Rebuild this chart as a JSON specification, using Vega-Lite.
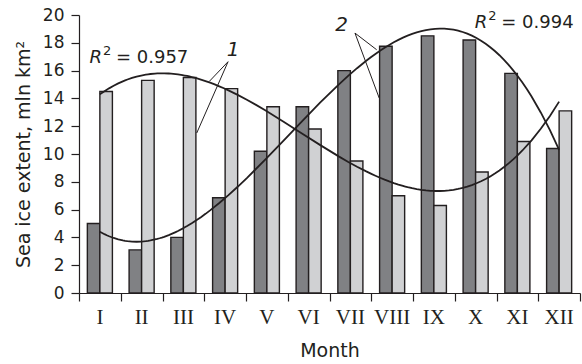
{
  "$schema": "https://vega.github.io/schema/vega-lite/v6.json",
  "width": 501,
  "height": 278,
  "autosize": "none",
  "padding": {"left": 79, "top": 15, "right": 2, "bottom": 71},
  "background": "white",
  "config": {"view": {"stroke": null}, "axis": {"grid": false, "domainColor": "#231f20", "tickColor": "#231f20", "labelColor": "#231f20", "titleColor": "#231f20", "domainWidth": 1.2, "tickWidth": 1.2}, "axisY": {"labelOverlap": false, "tickCount": 10}},
  "datasets": {
    "bars": [
      {"month": "I", "m": 1, "s": "2", "value": 5.0},
      {"month": "II", "m": 2, "s": "2", "value": 3.1},
      {"month": "III", "m": 3, "s": "2", "value": 4.0},
      {"month": "IV", "m": 4, "s": "2", "value": 6.85},
      {"month": "V", "m": 5, "s": "2", "value": 10.2},
      {"month": "VI", "m": 6, "s": "2", "value": 13.4},
      {"month": "VII", "m": 7, "s": "2", "value": 16.0},
      {"month": "VIII", "m": 8, "s": "2", "value": 17.75},
      {"month": "IX", "m": 9, "s": "2", "value": 18.5},
      {"month": "X", "m": 10, "s": "2", "value": 18.2},
      {"month": "XI", "m": 11, "s": "2", "value": 15.8},
      {"month": "XII", "m": 12, "s": "2", "value": 10.4},
      {"month": "I", "m": 1, "s": "1", "value": 14.5},
      {"month": "II", "m": 2, "s": "1", "value": 15.3},
      {"month": "III", "m": 3, "s": "1", "value": 15.5},
      {"month": "IV", "m": 4, "s": "1", "value": 14.7},
      {"month": "V", "m": 5, "s": "1", "value": 13.4},
      {"month": "VI", "m": 6, "s": "1", "value": 11.8},
      {"month": "VII", "m": 7, "s": "1", "value": 9.5},
      {"month": "VIII", "m": 8, "s": "1", "value": 7.0},
      {"month": "IX", "m": 9, "s": "1", "value": 6.3},
      {"month": "X", "m": 10, "s": "1", "value": 8.7},
      {"month": "XI", "m": 11, "s": "1", "value": 10.9},
      {"month": "XII", "m": 12, "s": "1", "value": 13.1}
    ],
    "leaders": [
      {"x": 4.07, "y": 16.64, "x2": 3.62, "y2": 15.22},
      {"x": 4.07, "y": 16.64, "x2": 3.32, "y2": 11.51},
      {"x": 7.11, "y": 18.7, "x2": 7.63, "y2": 17.5},
      {"x": 7.11, "y": 18.7, "x2": 7.69, "y2": 14.03}
    ],
    "labels": [
      {"x": 4.19, "y": 17.5, "label": "1"},
      {"x": 6.79, "y": 19.3, "label": "2"}
    ],
    "rsq": [
      {"x": 1.05, "y": 16.93, "r": "R", "sup": "2", "rest": "= 0.957"},
      {"x": 10.28, "y": 19.45, "r": "R", "sup": "2", "rest": "= 0.994"}
    ]
  },
  "resolve": {"scale": {"x": "independent"}},
  "layer": [
    {
      "data": {"name": "bars"},
      "mark": {"type": "bar", "stroke": "#231f20", "strokeWidth": 1.4},
      "encoding": {
        "x": {"field": "month", "type": "nominal", "sort": ["I","II","III","IV","V","VI","VII","VIII","IX","X","XI","XII"],
              "scale": {"paddingInner": 0.4, "paddingOuter": 0.2},
              "axis": {"title": "Month", "labelAngle": 0, "ticks": false, "labelFont": "Liberation Serif", "labelFontSize": 21, "labelPadding": 13,
                       "titleFont": "DejaVu Sans", "titleFontSize": 19, "titleFontWeight": "normal", "titlePadding": 14}},
        "xOffset": {"field": "s", "type": "nominal", "scale": {"domain": ["2", "1"]}},
        "y": {"field": "value", "type": "quantitative", "scale": {"domain": [0, 20], "nice": false},
              "axis": {"tickCount": 10, "labelOverlap": false, "tickSize": 8, "labelFont": "DejaVu Sans", "labelFontSize": 17, "labelPadding": 7,
                       "title": "Sea ice extent, mln km²", "titleFont": "DejaVu Sans", "titleFontSize": 19, "titleFontWeight": "normal", "titlePadding": 9}},
        "color": {"field": "s", "type": "nominal", "scale": {"domain": ["2", "1"], "range": ["#808184", "#d0d1d3"]}, "legend": null}
      }
    },
    {
      "layer": [
        {
          "data": {"name": "bars"},
          "transform": [{"regression": "value", "on": "m", "method": "poly", "order": 3, "groupby": ["s"]}],
          "mark": {"type": "line", "color": "#231f20", "strokeWidth": 1.8},
          "encoding": {
            "x": {"field": "m", "type": "quantitative", "scale": {"domain": [0.5, 12.5], "nice": false, "zero": false},
                  "axis": {"values": [0.5,1.5,2.5,3.5,4.5,5.5,6.5,7.5,8.5,9.5,10.5,11.5,12.5], "labels": false, "domain": false, "tickSize": 8, "title": null, "orient": "bottom"}},
            "y": {"field": "value", "type": "quantitative"},
            "detail": {"field": "s"}
          }
        },
        {
          "data": {"name": "leaders"},
          "mark": {"type": "rule", "color": "#231f20", "strokeWidth": 1},
          "encoding": {
            "x": {"field": "x", "type": "quantitative"},
            "y": {"field": "y", "type": "quantitative"},
            "x2": {"field": "x2"},
            "y2": {"field": "y2"}
          }
        },
        {
          "data": {"name": "labels"},
          "mark": {"type": "text", "font": "DejaVu Sans", "fontSize": 20, "fontStyle": "italic", "color": "#231f20"},
          "encoding": {
            "x": {"field": "x", "type": "quantitative"},
            "y": {"field": "y", "type": "quantitative"},
            "text": {"field": "label"}
          }
        },
        {
          "data": {"name": "rsq"},
          "mark": {"type": "text", "font": "DejaVu Sans", "fontSize": 18, "fontStyle": "italic", "align": "right", "color": "#231f20"},
          "encoding": {
            "x": {"field": "x", "type": "quantitative"},
            "y": {"field": "y", "type": "quantitative"},
            "text": {"field": "r"}
          }
        },
        {
          "data": {"name": "rsq"},
          "mark": {"type": "text", "font": "DejaVu Sans", "fontSize": 13, "align": "left", "dx": 1, "dy": -7, "color": "#231f20"},
          "encoding": {
            "x": {"field": "x", "type": "quantitative"},
            "y": {"field": "y", "type": "quantitative"},
            "text": {"field": "sup"}
          }
        },
        {
          "data": {"name": "rsq"},
          "mark": {"type": "text", "font": "DejaVu Sans", "fontSize": 18, "align": "left", "dx": 14, "color": "#231f20"},
          "encoding": {
            "x": {"field": "x", "type": "quantitative"},
            "y": {"field": "y", "type": "quantitative"},
            "text": {"field": "rest"}
          }
        }
      ]
    }
  ]
}
